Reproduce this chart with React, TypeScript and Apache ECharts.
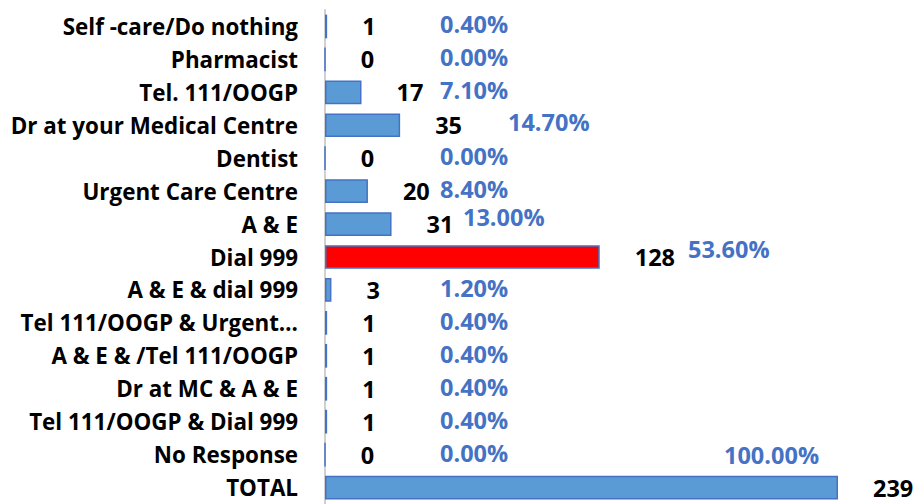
import React, { useEffect, useRef } from "react";
import * as echarts from "echarts";

const categories = [
  "Self -care/Do nothing",
  "Pharmacist",
  "Tel. 111/OOGP",
  "Dr at your Medical Centre",
  "Dentist",
  "Urgent Care Centre",
  "A & E",
  "Dial 999",
  "A & E & dial 999",
  "Tel 111/OOGP & Urgent…",
  "A & E & /Tel 111/OOGP",
  "Dr at MC & A & E",
  "Tel 111/OOGP & Dial 999",
  "No Response",
  "TOTAL",
];
const counts = [1, 0, 17, 35, 0, 20, 31, 128, 3, 1, 1, 1, 1, 0, 239];
const percents = [
  "0.40%", "0.00%", "7.10%", "14.70%", "0.00%", "8.40%", "13.00%", "53.60%",
  "1.20%", "0.40%", "0.40%", "0.40%", "0.40%", "0.00%", "100.00%",
];
const highlighted = ["Dial 999"];

// Manual nudges of percentage labels (pixels), as placed in the original
const pctNudge: Record<string, [number, number]> = {
  "Dr at your Medical Centre": [68, -1],
  "A & E": [23, -5],
  "Dial 999": [248, -6],
  TOTAL: [284, -31],
};

const FONT = "'Open Sans', sans-serif";
const FS_CAT = 22.4;
const FS_NUM = 23.5;

export default function App() {
  const ref = useRef<HTMLDivElement>(null);
  useEffect(() => {
    if (!ref.current) return;
    const chart = echarts.init(ref.current, undefined, { renderer: "svg" });
    const barData = counts.map((v, i) => ({
      value: v,
      itemStyle: {
        color: highlighted.includes(categories[i]) ? "#FF0000" : "#5B9BD5",
        borderColor: "#4472C4",
        borderWidth: 1.5,
      },
    }));
    chart.setOption({
      animation: false,
      grid: { left: 325, right: 81, top: 10, bottom: -6 },
      xAxis: {
        type: "value",
        min: 0,
        max: Math.max(...counts),
        show: false,
      },
      yAxis: {
        type: "category",
        data: categories,
        inverse: true,
        axisLine: { show: true, lineStyle: { color: "#D0D0D0", width: 2 } },
        axisTick: { show: false },
        axisLabel: {
          color: "#000",
          fontFamily: FONT,
          fontWeight: "bold",
          fontSize: FS_CAT,
          margin: 27,
        },
      },
      series: [
        {
          type: "bar",
          data: barData,
          barWidth: "72%",
          label: {
            show: true,
            position: "right",
            distance: 35,
            color: "#000",
            fontFamily: FONT,
            fontWeight: "bold",
            fontSize: FS_NUM,
            formatter: "{c}",
          },
        },
        {
          type: "custom",
          data: counts.map((v, i) => [v, i]),
          encode: { x: 0, y: 1 },
          renderItem: (params: any, api: any) => {
            const i = params.dataIndex;
            const zero = api.coord([0, api.value(1)]);
            const nudge = pctNudge[categories[i]] || [0, 0];
            return {
              type: "text",
              x: zero[0] + 115 + nudge[0],
              y: zero[1] - 2 + nudge[1],
              style: {
                text: percents[i],
                fill: "#4472C4",
                fontFamily: FONT,
                fontWeight: "bold",
                fontSize: FS_NUM,
                align: "left",
                verticalAlign: "middle",
              },
            };
          },
        },
      ],
    });
    return () => chart.dispose();
  }, []);
  return (
    <div
      ref={ref}
      style={{ position: "fixed", left: 0, top: 0, width: 919, height: 504, background: "#fff" }}
    />
  );
}
